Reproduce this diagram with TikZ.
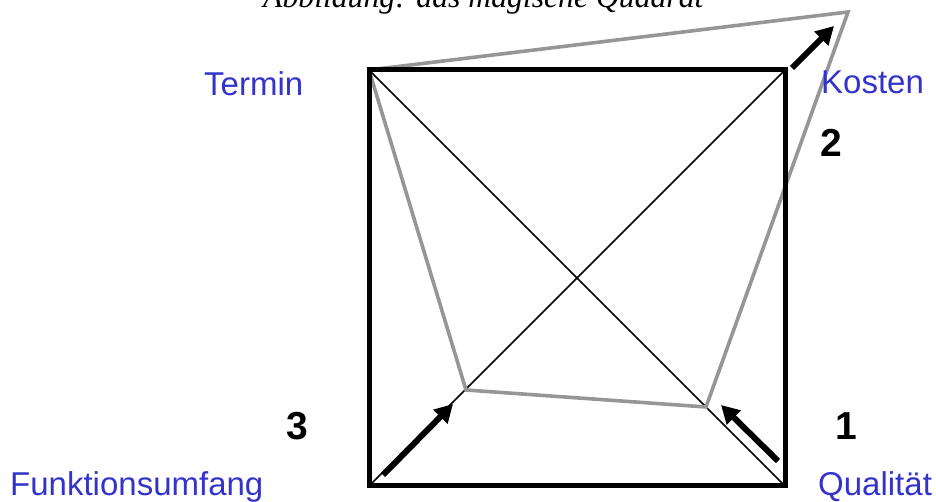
\documentclass[tikz,border=0pt]{standalone}
\usepackage{fontspec}
\setmainfont{Liberation Sans}
\newfontfamily\titlefont{Liberation Serif}
\usetikzlibrary{arrows.meta}
\definecolor{lblue}{RGB}{51,51,204}
\definecolor{lgray}{RGB}{150,150,150}
\begin{document}
\begin{tikzpicture}[x=1pt,y=1pt,
  lbl/.style={anchor=base west,inner sep=0pt,text=lblue,font=\fontsize{33}{38}\selectfont},
  num/.style={anchor=base west,inner sep=0pt,font=\fontsize{39}{44}\selectfont\bfseries},
  sq/.style={line width=5pt,line join=miter},
  diag/.style={line width=1.6pt},
  grayline/.style={draw=lgray,line width=3.6pt,line join=miter},
  bigarrow/.style={line width=6pt,-{Triangle[length=18pt,width=19pt]}}]
\clip (0,0) rectangle (936,502);
\useasboundingbox (0,0) rectangle (936,502);
% title (cut off at top)
\node[anchor=base west,inner sep=0pt,font=\titlefont\itshape\fontsize{31.7}{36}\selectfont] (title) at (263,494) {Abbildung: das magische Quadrat};
% square corners
\coordinate (TL) at (369,432);
\coordinate (TR) at (785,432);
\coordinate (BL) at (369,16);
\coordinate (BR) at (785,16);
% gray polygon points
\coordinate (G1) at (848,490);
\coordinate (G2) at (706,95);
\coordinate (G3) at (466,112);
% diagonals
\draw[diag] (TL) -- (BR);
\draw[diag] (BL) -- (TR);
% gray polygon
\draw[grayline] (TL) -- (G1) -- (G2) -- (G3) -- cycle;
% square
\draw[sq] (TL) -- (TR) -- (BR) -- (BL) -- cycle;
% arrows
\coordinate (a1s) at (383,27);
\coordinate (a1e) at (453,98);
\coordinate (a2s) at (778,41);
\coordinate (a2e) at (721,97);
\coordinate (a3s) at (792,434);
\coordinate (a3e) at (834,476);
\draw[bigarrow] (a1s) -- (a1e);
\draw[bigarrow] (a2s) -- (a2e);
\draw[bigarrow] (a3s) -- (a3e);
% labels
\node[lbl] (termin) at (204,406) {Termin};
\node[lbl] (kosten) at (821,408) {Kosten};
\node[lbl] (funk) at (10,6) {Funktionsumfang};
\node[lbl] (qual) at (818,6) {Qualität};
% numbers
\node[num] (n2) at (820,345) {2};
\node[num] (n1) at (835,62) {1};
\node[num] (n3) at (286,62) {3};
\end{tikzpicture}
\end{document}
